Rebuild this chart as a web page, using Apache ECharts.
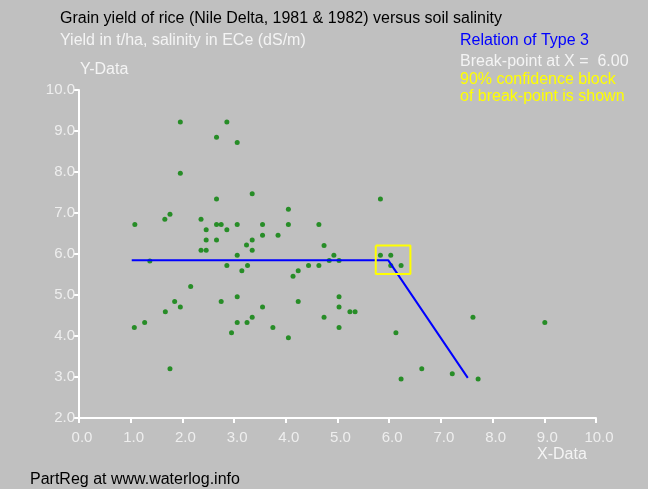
<!DOCTYPE html>
<html>
<head>
<meta charset="utf-8">
<script src="https://cdn.jsdelivr.net/npm/echarts@6/dist/echarts.min.js"></script>
<style>
  html, body { margin: 0; padding: 0; background: #c0c0c0; }
  #chart { width: 648px; height: 489px; }
</style>
</head>
<body>
<div id="chart"></div>
<script>
// salinity (x) and yield (y)
const pointsX = [1.96, 2.86, 2.66, 3.06, 1.96, 2.66, 3.35, 1.76, 1.66, 1.08,
  2.36, 2.46, 2.66, 2.75, 3.06, 2.86, 2.46, 2.66, 3.24, 3.35,
  2.36, 2.46, 3.06, 3.35, 5.83, 4.05, 3.55, 4.05, 4.64, 3.55,
  3.85, 4.74, 4.93, 5.83, 6.03, 1.37, 2.86, 3.26, 3.15, 2.16,
  1.85, 1.96, 2.75, 3.06, 1.67, 1.27, 1.07, 3.06, 3.25, 3.35,
  2.95, 1.76, 4.84, 5.03, 4.44, 4.64, 4.24, 4.14, 6.03, 6.23,
  4.24, 5.03, 3.55, 5.03, 5.24, 5.34, 4.74, 3.75, 5.03, 4.05,
  6.13, 7.62, 9.01, 6.63, 6.23, 7.22, 7.72];
const pointsY = [9.22, 9.22, 8.85, 8.72, 7.97, 7.34, 7.47, 6.97, 6.85, 6.72,
  6.85, 6.59, 6.72, 6.72, 6.72, 6.59, 6.34, 6.34, 6.22, 6.34,
  6.09, 6.09, 5.97, 6.09, 7.34, 7.09, 6.72, 6.72, 6.72, 6.46,
  6.46, 6.21, 5.97, 5.97, 5.97, 5.83, 5.72, 5.72, 5.59, 5.21,
  4.84, 4.71, 4.84, 4.96, 4.59, 4.33, 4.21, 4.33, 4.33, 4.46,
  4.08, 3.20, 5.84, 5.84, 5.72, 5.72, 5.59, 5.46, 5.72, 5.72,
  4.84, 4.96, 4.71, 4.71, 4.59, 4.59, 4.46, 4.21, 4.21, 3.96,
  4.08, 4.46, 4.33, 3.20, 2.95, 3.08, 2.95];

// fitted broken line (type 3)
const fitX = [1.02, 5.98, 7.52];
const fitY = [5.85, 5.85, 2.98];

// 90% confidence block of the break-point
const boxX = [5.74, 6.41, 6.41, 5.74, 5.74];
const boxY = [6.21, 6.21, 5.51, 5.51, 6.21];

const zip = (a, b) => a.map((v, i) => [v, b[i]]);

const chart = echarts.init(document.getElementById('chart'));

const txt = (x, y, text, color) => ({
  type: 'text', left: x, top: y,
  style: { text: text, fill: color, font: '16px "Liberation Sans", Arial, sans-serif' }
});

chart.setOption({
  backgroundColor: '#c0c0c0',
  animation: false,
  grid: { left: 79, right: 52, top: 90, bottom: 71 },
  xAxis: {
    type: 'value', min: 0, max: 10, interval: 1,
    axisLine: { lineStyle: { color: '#ffffff', width: 2 } },
    axisTick: { show: true, length: 5, lineStyle: { color: '#ffffff', width: 2 } },
    axisLabel: {
      color: '#eeeeee', fontSize: 15, margin: 12, padding: [0, 0, 0, 6],
      fontFamily: 'Liberation Sans',
      formatter: v => v.toFixed(1)
    },
    splitLine: { show: false }
  },
  yAxis: {
    type: 'value', min: 2, max: 10, interval: 1,
    axisLine: { show: true, lineStyle: { color: '#ffffff', width: 2 } },
    axisTick: { show: true, length: 5, lineStyle: { color: '#ffffff', width: 2 } },
    axisLabel: {
      color: '#eeeeee', fontSize: 15, margin: 4,
      fontFamily: 'Liberation Sans',
      formatter: v => v.toFixed(1)
    },
    splitLine: { show: false }
  },
  graphic: [
    txt(60, 11, 'Grain yield of rice (Nile Delta, 1981 & 1982) versus soil salinity', '#000000'),
    txt(60, 33, 'Yield in t/ha, salinity in ECe (dS/m)', '#f4f4f4'),
    txt(80, 62, 'Y-Data', '#f4f4f4'),
    txt(460, 33, 'Relation of Type 3', '#0000ff'),
    txt(460, 54, 'Break-point at X =  6.00', '#f4f4f4'),
    txt(460, 72, '90% confidence block', '#ffff00'),
    txt(460, 89, 'of break-point is shown', '#ffff00'),
    txt(537, 447, 'X-Data', '#f4f4f4'),
    txt(30, 472, 'PartReg at www.waterlog.info', '#000000')
  ],
  series: [
    {
      type: 'scatter', data: zip(pointsX, pointsY),
      symbolSize: 5, itemStyle: { color: '#008000' }, z: 3
    },
    {
      type: 'line', data: zip(fitX, fitY), symbol: 'none',
      lineStyle: { color: '#0000ff', width: 2 }, z: 4
    },
    {
      type: 'line', data: zip(boxX, boxY), symbol: 'none',
      lineStyle: { color: '#ffff00', width: 2 }, z: 5
    }
  ]
});
</script>
</body>
</html>
